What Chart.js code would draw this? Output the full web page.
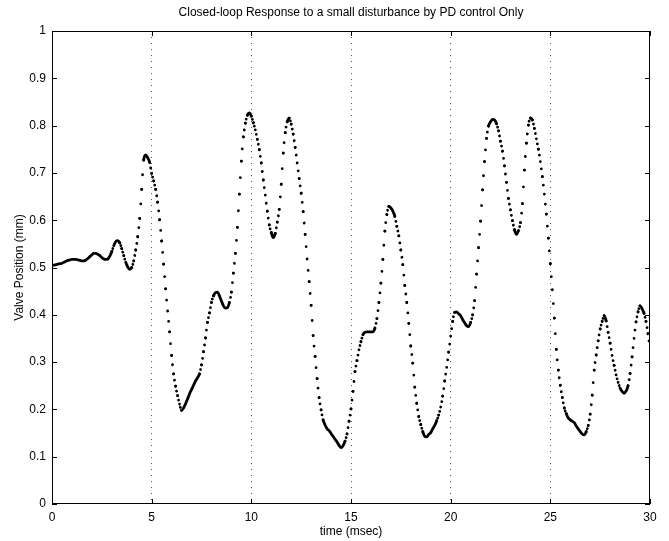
<!DOCTYPE html>
<html>
<head>
<meta charset="utf-8">
<script src="https://cdn.jsdelivr.net/npm/chart.js@4.4.1/dist/chart.umd.min.js"></script>
<style>
  html, body { margin: 0; padding: 0; background: #fff; }
  #wrap { width: 669px; height: 541px; }
</style>
</head>
<body>
<div id="wrap"><canvas id="c" width="669" height="541"></canvas></div>
<script>
// ---- data ----
const chartTitle = "Closed-loop Response to a small disturbance by PD control Only";
const xAxisLabel = "time (msec)";
const yAxisLabel = "Valve Position (mm)";
const timeStepMs = 0.1;   // sample spacing of the series below (msec)
// Valve position (mm), one value per 0.1 msec from 0 to 30 msec
const valvePosition = [
  0.505,0.505,0.506,0.507,0.508,0.509,0.511,0.513,0.515,0.516,   // 0.0-0.9
  0.517,0.517,0.517,0.516,0.515,0.514,0.514,0.516,0.519,0.523,   // 1.0-1.9
  0.527,0.530,0.530,0.528,0.525,0.521,0.518,0.517,0.518,0.524,   // 2.0-2.9
  0.534,0.546,0.555,0.557,0.552,0.540,0.525,0.511,0.501,0.496,   // 3.0-3.9
  0.500,0.514,0.537,0.565,0.604,0.665,0.727,0.738,0.732,0.722,   // 4.0-4.9
  0.699,0.683,0.665,0.638,0.601,0.556,0.507,0.455,0.408,0.364,   // 5.0-5.9
  0.314,0.275,0.249,0.229,0.211,0.198,0.203,0.212,0.222,0.233,   // 6.0-6.9
  0.242,0.251,0.260,0.267,0.275,0.294,0.322,0.351,0.384,0.404,   // 7.0-7.9
  0.426,0.440,0.447,0.448,0.440,0.429,0.419,0.414,0.415,0.426,   // 8.0-8.9
  0.448,0.488,0.530,0.585,0.655,0.725,0.776,0.805,0.822,0.827,   // 9.0-9.9
  0.820,0.806,0.791,0.771,0.749,0.721,0.685,0.653,0.619,0.590,   // 10.0-10.9
  0.574,0.563,0.572,0.596,0.623,0.676,0.742,0.785,0.808,0.816,   // 11.0-11.9
  0.803,0.782,0.754,0.721,0.688,0.657,0.618,0.570,0.518,0.470,   // 12.0-12.9
  0.420,0.356,0.312,0.265,0.225,0.199,0.178,0.167,0.159,0.155,   // 13.0-13.9
  0.149,0.143,0.137,0.131,0.124,0.119,0.123,0.133,0.148,0.175,   // 14.0-14.9
  0.201,0.238,0.280,0.303,0.326,0.343,0.358,0.363,0.364,0.364,   // 15.0-15.9
  0.364,0.364,0.372,0.392,0.426,0.467,0.517,0.577,0.612,0.629,   // 16.0-16.9
  0.626,0.619,0.608,0.587,0.567,0.537,0.506,0.462,0.426,0.382,   // 17.0-17.9
  0.334,0.298,0.247,0.213,0.185,0.168,0.153,0.143,0.142,0.147,   // 18.0-18.9
  0.151,0.159,0.166,0.176,0.188,0.205,0.228,0.260,0.289,0.321,   // 19.0-19.9
  0.355,0.386,0.405,0.406,0.402,0.398,0.390,0.383,0.377,0.375,   // 20.0-20.9
  0.384,0.400,0.430,0.486,0.542,0.598,0.664,0.724,0.773,0.799,   // 21.0-21.9
  0.808,0.813,0.812,0.804,0.789,0.767,0.746,0.715,0.680,0.646,   // 22.0-22.9
  0.622,0.599,0.580,0.570,0.578,0.595,0.635,0.706,0.763,0.801,   // 23.0-23.9
  0.816,0.812,0.794,0.772,0.750,0.724,0.692,0.655,0.613,0.562,   // 24.0-24.9
  0.508,0.453,0.393,0.327,0.283,0.251,0.225,0.203,0.191,0.182,   // 25.0-25.9
  0.178,0.175,0.172,0.165,0.159,0.153,0.148,0.146,0.153,0.166,   // 26.0-26.9
  0.190,0.230,0.283,0.315,0.345,0.370,0.386,0.398,0.387,0.363,   // 27.0-27.9
  0.340,0.314,0.293,0.273,0.257,0.245,0.238,0.234,0.239,0.250,   // 28.0-28.9
  0.276,0.311,0.350,0.385,0.406,0.419,0.413,0.403,0.386,0.360,   // 29.0-29.9
  0.329                                                          // 30.0
];
const xTickLabels = ["0","5","10","15","20","25","30"];
const yTickLabels = ["0","0.1","0.2","0.3","0.4","0.5","0.6","0.7","0.8","0.9","1"];

// ---- build dataset ----
const points = valvePosition.map((v, i) => ({ x: +(i * timeStepMs).toFixed(2), y: v }));

const FONT = "'Liberation Sans', Arial, Helvetica, sans-serif";
const DOTS_PER_STEP = 2; // the original trace was plotted with a dot every ~0.05 msec

const framePlugin = {
  id: 'framePlugin',
  afterDraw(chart) {
    const { ctx, chartArea: a, scales: { x, y } } = chart;
    ctx.save();
    ctx.strokeStyle = '#000';
    ctx.lineWidth = 1;
    ctx.strokeRect(Math.round(a.left) + 0.5, Math.round(a.top) + 0.5,
                   Math.round(a.width) - 1, Math.round(a.height) - 1);
    ctx.beginPath();
    const tl = 5;
    y.ticks.forEach(t => {
      const py = Math.round(y.getPixelForValue(t.value)) + 0.5;
      ctx.moveTo(a.left, py); ctx.lineTo(a.left + tl, py);
      ctx.moveTo(a.right, py); ctx.lineTo(a.right - tl, py);
    });
    x.ticks.forEach(t => {
      const px = Math.round(x.getPixelForValue(t.value)) + 0.5;
      ctx.moveTo(px, a.bottom); ctx.lineTo(px, a.bottom - tl);
      ctx.moveTo(px, a.top); ctx.lineTo(px, a.top + tl);
    });
    ctx.stroke();
    ctx.restore();
  }
};

new Chart(document.getElementById('c'), {
  type: 'line',
  data: {
    datasets: [{
      data: points,
      borderColor: '#000',
      borderWidth: 2.8,
      borderCapStyle: 'round',
      borderJoinStyle: 'round',
      pointRadius: 0,
      tension: 0,
      cubicInterpolationMode: 'monotone',
      fill: false,
      segment: {
        borderDash: ctx => {
          const dx = ctx.p1.x - ctx.p0.x, dy = ctx.p1.y - ctx.p0.y;
          const g = Math.hypot(dx, dy) / DOTS_PER_STEP;
          return g < 2.8 ? [] : [0.01, g - 0.01];
        }
      }
    }]
  },
  options: {
    responsive: false,
    animation: false,
    devicePixelRatio: 1,
    layout: { padding: { left: 0, right: 19, top: 0, bottom: 0 } },
    plugins: {
      legend: { display: false },
      tooltip: { enabled: false },
      title: {
        display: true,
        text: chartTitle,
        fullSize: false,
        color: '#000',
        font: { family: FONT, size: 12, weight: 'normal' },
        padding: { top: 5, bottom: 11.6 }
      }
    },
    scales: {
      x: {
        type: 'linear',
        min: 0, max: 30,
        afterFit: s => { s.height = 37; },
        ticks: {
          stepSize: 5,
          color: '#000',
          padding: 6,
          font: { family: FONT, size: 12 },
          maxRotation: 0,
          callback: (v) => xTickLabels[Math.round(v / 5)] ?? ''
        },
        grid: {
          drawTicks: false,
          color: ctx => (ctx.tick && (ctx.tick.value === 0 || ctx.tick.value === 30)) ? 'rgba(0,0,0,0)' : '#555',
          lineWidth: 1,
        },
        border: { display: false, dash: [1, 5] },
        title: {
          display: true, text: xAxisLabel, color: '#000',
          font: { family: FONT, size: 12 },
          padding: { top: 0, bottom: 2 }
        }
      },
      y: {
        min: 0, max: 1,
        afterFit: s => { s.width = 52; },
        ticks: {
          stepSize: 0.1,
          color: '#000',
          padding: 6,
          font: { family: FONT, size: 12 },
          callback: (v) => yTickLabels[Math.round(v * 10)] ?? ''
        },
        grid: { display: false, drawTicks: false },
        border: { display: false },
        title: {
          display: true, text: yAxisLabel, color: '#000',
          font: { family: FONT, size: 12 },
          padding: { top: 12, bottom: 0 }
        }
      }
    }
  },
  plugins: [framePlugin]
});
</script>
</body>
</html>
